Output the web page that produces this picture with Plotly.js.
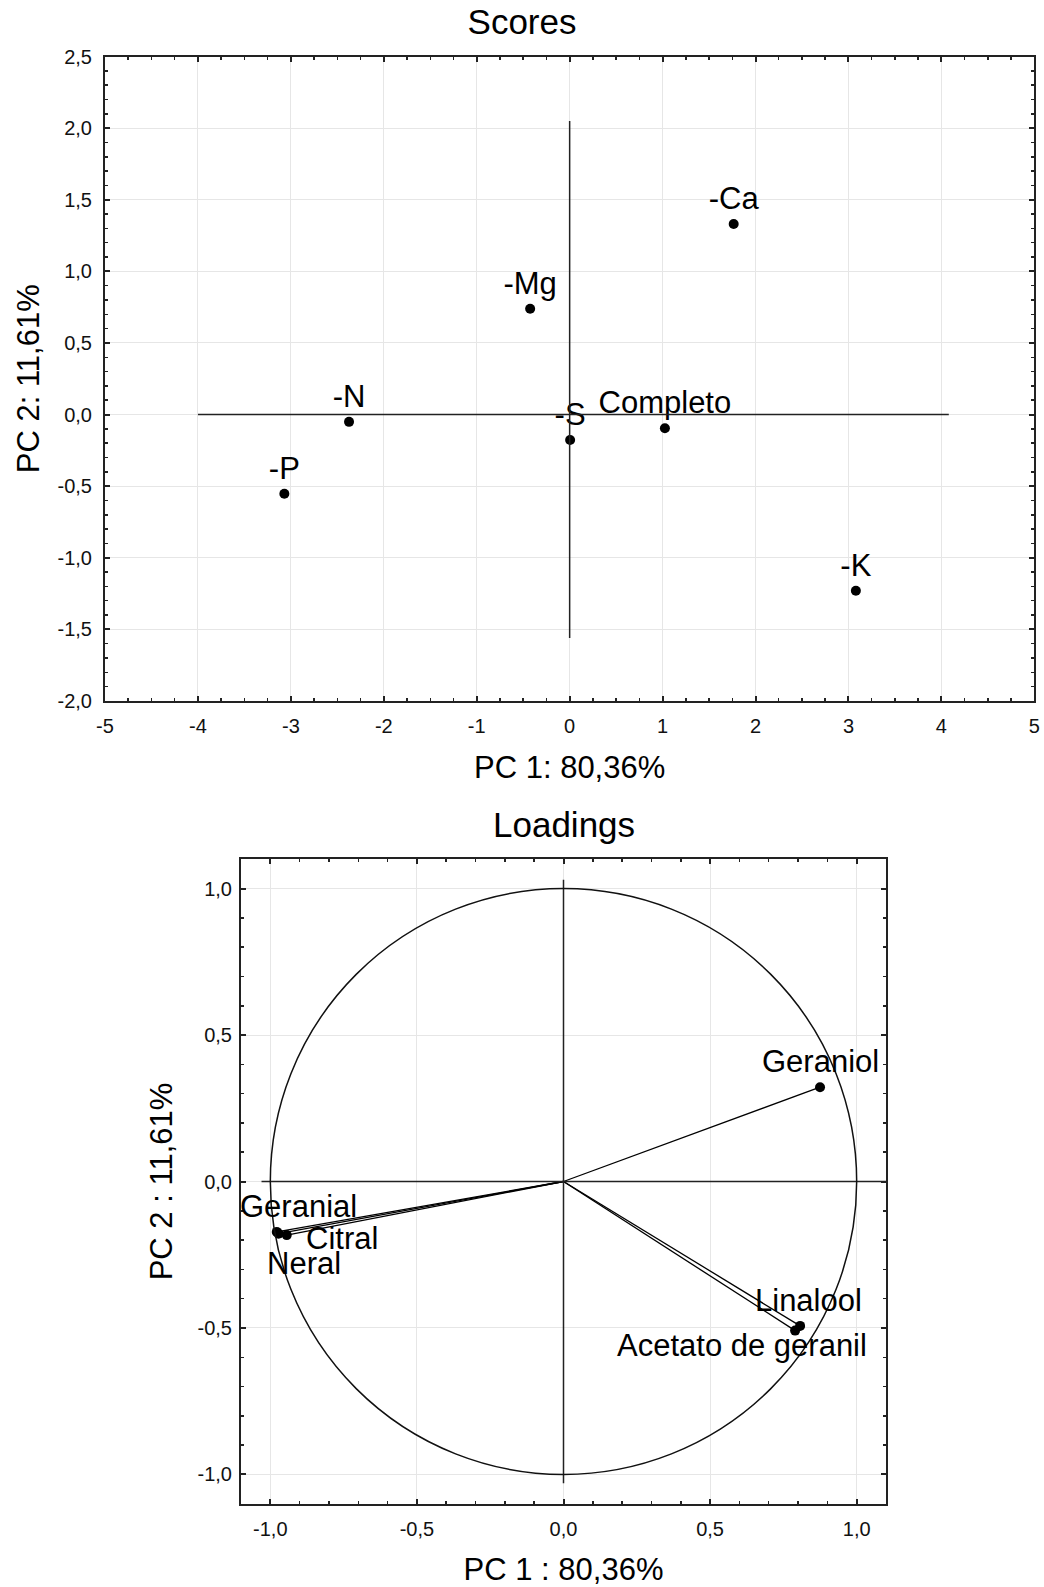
<!DOCTYPE html>
<html>
<head>
<meta charset="utf-8">
<script src="https://cdn.plot.ly/plotly-3.0.1.min.js"></script>
<style>
  html, body { margin: 0; padding: 0; background: #fff; }
  #chart { width: 1044px; height: 1587px; }
</style>
</head>
<body>
<div id="chart"></div>
<script>
// ---------- Data ----------
const scoreLabels = ['-Ca', '-Mg', '-N', '-P', '-S', 'Completo', '-K'];
const scorePC1 = [1.765, -0.425, -2.374, -3.07, 0.005, 1.025, 3.08];
const scorePC2 = [1.330, 0.739, -0.051, -0.553, -0.178, -0.096, -1.230];

const loadLabels = ['Geraniol', 'Linalool', 'Acetato de geranil', 'Geranial', 'Neral', 'Citral'];
const loadPC1 = [0.875, 0.807, 0.790, -0.978, -0.972, -0.944];
const loadPC2 = [0.322, -0.493, -0.509, -0.172, -0.178, -0.183];

const scoreXTickVals = [-5, -4, -3, -2, -1, 0, 1, 2, 3, 4, 5];
const scoreXTickText = ['-5', '-4', '-3', '-2', '-1', '0', '1', '2', '3', '4', '5'];
const scoreYTickVals = [-2, -1.5, -1, -0.5, 0, 0.5, 1, 1.5, 2, 2.5];
const scoreYTickText = ['-2,0', '-1,5', '-1,0', '-0,5', '0,0', '0,5', '1,0', '1,5', '2,0', '2,5'];
const loadTickVals = [-1, -0.5, 0, 0.5, 1];
const loadTickText = ['-1,0', '-0,5', '0,0', '0,5', '1,0'];

// ---------- Styles ----------
const FONT = 'Arial, "Liberation Sans", sans-serif';
const W = 1044, H = 1587;
// label offsets (px) from each loading point: [xshift, yshift]
const loadLabelShift = [[0, 26], [8, 25], [-53, -15], [22, 25], [25, -30], [55, -3]];

// vectors from origin to each loading
const vecX = [], vecY = [];
loadPC1.forEach((v, i) => { vecX.push(0, v, null); vecY.push(0, loadPC2[i], null); });

const traces = [
  {
    type: 'scatter', mode: 'markers+text',
    x: scorePC1, y: scorePC2, text: scoreLabels,
    textposition: 'top center', cliponaxis: false,
    textfont: { family: FONT, size: 31, color: '#000' },
    marker: { color: '#000', size: 10 },
    xaxis: 'x', yaxis: 'y', hoverinfo: 'x+y+text', showlegend: false
  },
  {
    type: 'scatter', mode: 'lines',
    x: vecX, y: vecY,
    line: { color: '#000', width: 1.3 },
    xaxis: 'x2', yaxis: 'y2', hoverinfo: 'skip', showlegend: false
  },
  {
    type: 'scatter', mode: 'markers',
    x: loadPC1, y: loadPC2, text: loadLabels,
    cliponaxis: false,
    marker: { color: '#000', size: 10 },
    xaxis: 'x2', yaxis: 'y2', hoverinfo: 'x+y+text', showlegend: false
  }
];

function axisBase(extra) {
  return Object.assign({
    showline: true, linecolor: '#222', linewidth: 2, mirror: 'ticks',
    ticks: 'inside', ticklen: 5, tickwidth: 2, tickcolor: '#222',
    showgrid: true, gridcolor: '#e6e6e6', gridwidth: 1,
    zeroline: false, tickmode: 'array',
    tickfont: { family: FONT, size: 20, color: '#111' },
    automargin: false, fixedrange: true
  }, extra);
}

const titleFont = { family: FONT, size: 31, color: '#000' };

const loadAnnotations = loadLabels.map((t, i) => ({
  text: t, xref: 'x2', yref: 'y2', x: loadPC1[i], y: loadPC2[i],
  xanchor: 'center', yanchor: 'middle', showarrow: false,
  xshift: loadLabelShift[i][0], yshift: loadLabelShift[i][1],
  font: { family: FONT, size: 31, color: '#000' }
}));

const layout = {
  width: W, height: H,
  margin: { l: 0, r: 0, t: 0, b: 0 },
  paper_bgcolor: '#fff', plot_bgcolor: '#fff',
  font: { family: FONT, color: '#000' },
  title: {
    text: 'Scores', font: { family: FONT, size: 35, color: '#000' },
    x: 0.5, xanchor: 'center', y: 1 - 22 / H, yanchor: 'middle'
  },
  xaxis: axisBase({
    domain: [105 / W, 1034.3 / W], range: [-5, 5], anchor: 'y',
    tickvals: scoreXTickVals, ticktext: scoreXTickText, ticklabelstandoff: 6,
    minor: { tickmode: 'linear', tick0: 0, dtick: 0.25, ticks: 'inside', ticklen: 3, tickwidth: 1.5, tickcolor: '#222', showgrid: false },
    title: { text: 'PC 1: 80,36%', font: titleFont, standoff: 20 }
  }),
  yaxis: axisBase({
    domain: [1 - 701 / H, 1 - 56.5 / H], range: [-2, 2.5], anchor: 'x',
    tickvals: scoreYTickVals, ticktext: scoreYTickText, ticklabelstandoff: 7,
    minor: { tickmode: 'linear', tick0: 0, dtick: 0.1, ticks: 'inside', ticklen: 3, tickwidth: 1.5, tickcolor: '#222', showgrid: false },
    title: { text: 'PC 2: 11,61%', font: titleFont, standoff: 9 }
  }),
  xaxis2: axisBase({
    domain: [241 / W, 886 / W], range: [-1.1, 1.1], anchor: 'y2',
    tickvals: loadTickVals, ticktext: loadTickText, ticklabelstandoff: 6,
    minor: { tickmode: 'linear', tick0: 0, dtick: 0.1, ticks: 'inside', ticklen: 3, tickwidth: 1.5, tickcolor: '#222', showgrid: false },
    title: { text: 'PC 1 : 80,36%', font: titleFont, standoff: 22 }
  }),
  yaxis2: axisBase({
    domain: [1 - 1503.7 / H, 1 - 859.3 / H], range: [-1.1, 1.1], anchor: 'x2',
    tickvals: loadTickVals, ticktext: loadTickText, ticklabelstandoff: 3,
    minor: { tickmode: 'linear', tick0: 0, dtick: 0.1, ticks: 'inside', ticklen: 3, tickwidth: 1.5, tickcolor: '#222', showgrid: false },
    title: { text: 'PC 2 : 11,61%', font: titleFont, standoff: 16 }
  }),
  annotations: [
    {
      text: 'Loadings', xref: 'x2 domain', yref: 'paper', x: 0.5, y: 1 - 824.5 / H,
      xanchor: 'center', yanchor: 'middle', showarrow: false,
      font: { family: FONT, size: 35, color: '#000' }
    }
  ].concat(loadAnnotations),
  shapes: [
    // Scores cross axes
    { type: 'line', xref: 'x', yref: 'y', x0: -4, x1: 4.08, y0: 0, y1: 0, line: { color: '#222', width: 1.5 } },
    { type: 'line', xref: 'x', yref: 'y', x0: 0, x1: 0, y0: -1.56, y1: 2.05, line: { color: '#222', width: 1.5 } },
    // Loadings cross axes
    { type: 'line', xref: 'x2', yref: 'y2', x0: -1.03, x1: 1.1, y0: 0, y1: 0, line: { color: '#222', width: 1.5 } },
    { type: 'line', xref: 'x2', yref: 'y2', x0: 0, x1: 0, y0: -1.03, y1: 1.03, line: { color: '#222', width: 1.5 } },
    // Unit circle
    { type: 'circle', xref: 'x2', yref: 'y2', x0: -1, x1: 1, y0: -1, y1: 1, line: { color: '#111', width: 1.5 } }
  ]
};

Plotly.newPlot('chart', traces, layout, { staticPlot: true, displayModeBar: false });
</script>
</body>
</html>
